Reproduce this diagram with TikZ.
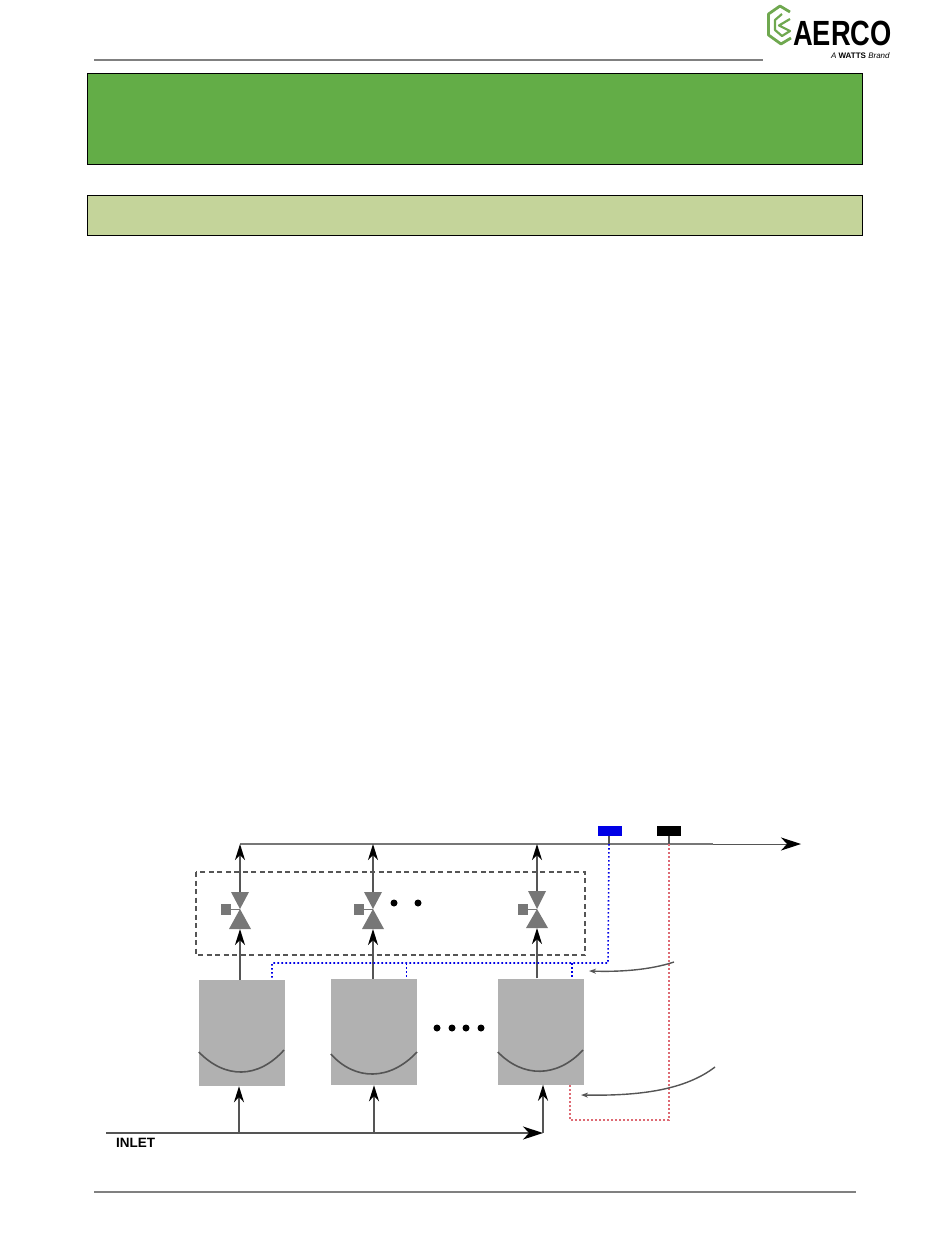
\documentclass[tikz,border=0pt]{standalone}
\usepackage{fontspec}
\usepackage{graphicx}
\setmainfont{Liberation Sans}
\usetikzlibrary{arrows.meta}
\definecolor{bannergreen}{HTML}{63AD47}
\definecolor{bannerlight}{HTML}{C4D49A}
\definecolor{boilergray}{HTML}{B1B1B1}
\definecolor{valvegray}{HTML}{777777}
\definecolor{pipegray}{HTML}{555555}
\definecolor{logogreen}{HTML}{6FA84F}
\definecolor{sensorblue}{HTML}{0000E6}
\definecolor{signalred}{HTML}{DE6A74}
\tikzset{
    banner/.style={draw=black, line width=0.8pt, inner sep=0pt},
    boiler/.style={fill=boilergray, inner sep=0pt, minimum width=86pt, minimum height=106pt},
    sensor/.style={inner sep=0pt, minimum width=24pt, minimum height=10pt},
    actuator/.style={fill=valvegray, inner sep=0pt, minimum width=10pt, minimum height=11pt},
    pipe/.style={draw=pipegray, line width=1.6pt},
    flow/.style={pipe, -{Stealth[length=16pt, width=10pt, inset=5pt, color=black]}},
    bigflow/.style={pipe, -{Stealth[length=20pt, width=13pt, inset=6pt, color=black]}},
    bluewire/.style={draw=sensorblue, line width=1.6pt, dash pattern=on 1.6pt off 2.4pt},
    redwire/.style={draw=signalred, line width=1.6pt, dash pattern=on 1.6pt off 2.4pt},
    pointer/.style={draw=pipegray, line width=1.4pt, -{Stealth[length=7pt, width=5pt]}},
    dot/.style={circle, fill=black, inner sep=0pt, minimum size=7pt}
}
\begin{document}
\begin{tikzpicture}[x=1pt, y=-1pt]
    \useasboundingbox (0,0) rectangle (950,1241);

    % Page furniture
    \draw[draw=gray, line width=1.2pt] (94,60) -- (763,60);
    \draw[draw=gray, line width=1.2pt] (94,1192) -- (856,1192);
    \draw[banner, fill=bannergreen] (87,73) rectangle (862,164);
    \draw[banner, fill=bannerlight] (87,195) rectangle (862,235);

    % Logo
    \draw[draw=logogreen, line width=2.8pt, line join=round]
        (790,12) -- (780,6) -- (768.5,14) -- (768.5,35) -- (781,44) -- (791,38);
    \draw[draw=logogreen, line width=2.2pt, line join=round]
        (782,14) -- (775,20) -- (775,30) -- (782,36) -- (790,31) -- (779,25.5) -- (790,19);
    \node[anchor=west, inner sep=0pt] (logotext) at (793,33.5)
        {\scalebox{.78}[1]{\fontsize{35}{35}\selectfont\bfseries AERCO}};
    \node[anchor=east, inner sep=0pt] (logotag) at (890,56)
        {\fontsize{8}{8}\selectfont \textit{A} \textbf{WATTS} \textit{Brand}};

    % Boilers
    \node[boiler] (boilerA) at (242,1033) {};
    \node[boiler] (boilerB) at (374,1032) {};
    \node[boiler] (boilerC) at (541,1031.5) {};
    \draw[pipe] (boilerA.west |- 0,1052) .. controls (225,1079) and (258,1079) .. (284,1050);
    \draw[pipe] (boilerB.west |- 0,1054) .. controls (355,1081) and (390,1081) .. (417,1052);
    \draw[pipe] (boilerC.west |- 0,1052) .. controls (523,1078) and (557,1078) .. (583,1050);

    % Coordinates of the header and the inlet
    \coordinate (headerA) at (240,844);
    \coordinate (headerB) at (373,844);
    \coordinate (headerC) at (537,844);
    \coordinate (headerEnd) at (713,844);
    \coordinate (outlet) at (801,844);
    \coordinate (inletStart) at (106,1133);
    \coordinate (inletA) at (239,1133);
    \coordinate (inletB) at (374,1133);
    \coordinate (inletC) at (543,1133);

    % Valve outline box
    \draw[draw=pipegray, line width=1.3pt, dash pattern=on 5pt off 3.5pt] (196,872) rectangle (585,955);

    % Valves
    \foreach \name/\vx/\vtop/\vbot in {valveA/240/892/929, valveB/373/892/929, valveC/537/891/928} {
        \coordinate (\name) at (\vx,909);
        \fill[valvegray] (\vx-9,\vtop) -- (\vx+9,\vtop) -- (\name) -- cycle;
        \fill[valvegray] (\vx-11,\vbot) -- (\vx+11,\vbot) -- (\name) -- cycle;
        \node[actuator] (\name act) at (\vx-14,909) {};
        \draw[draw=valvegray, line width=1pt] (\name act) -- (\name);
        \coordinate (\name top) at (\vx,\vtop);
        \coordinate (\name bot) at (\vx,\vbot);
    }

    % Header and outlet
    \draw[draw=valvegray, line width=2.4pt] (headerA) -- (headerEnd);
    \draw[bigflow, line width=1pt] (headerEnd) -- (outlet);
    \draw[flow] (valveAtop) -- (headerA);
    \draw[flow] (valveBtop) -- (headerB);
    \draw[flow] (valveCtop) -- (headerC);

    % Boilers up to valves
    \draw[flow] (valveAbot |- boilerA.north) -- (valveAbot);
    \draw[flow] (valveBbot |- boilerB.north) -- (valveBbot);
    \draw[flow] (valveCbot |- boilerC.north) -- (valveCbot);

    % Inlet
    \draw[bigflow] (inletStart) -- (inletC);
    \draw[flow] (inletA) -- (inletA |- boilerA.south);
    \draw[flow] (inletB) -- (inletB |- boilerB.south);
    \draw[flow] (inletC) -- (inletC |- boilerC.south);
    \node[anchor=west, inner sep=0pt, font=\bfseries\fontsize{13.5}{13.5}\selectfont] (inletlabel) at (116,1143) {INLET};

    % Sensors
    \node[sensor, fill=sensorblue] (sensorBlue) at (610,831) {};
    \node[sensor, fill=black] (sensorBlack) at (669,831) {};
    \coordinate (tapBlue) at (609,844);
    \coordinate (tapBlack) at (669,844);
    \draw[draw=pipegray, line width=2pt] (sensorBlue.south -| tapBlue) -- (tapBlue);
    \draw[draw=pipegray, line width=2pt] (sensorBlack.south) -- (tapBlack);

    % Blue signal wiring
    \coordinate (busCorner) at (608,963);
    \coordinate (busEnd) at (272,963);
    \coordinate (dropB) at (406.5,963);
    \coordinate (dropC) at (572,963);
    \draw[bluewire] (tapBlue) -- (busCorner) -- (busEnd) -- (busEnd |- boilerA.north);
    \draw[bluewire] (dropB) -- (dropB |- boilerB.north);
    \draw[bluewire] (dropC) -- (dropC |- boilerC.north);

    % Red signal wiring
    \coordinate (redCorner) at (669,1120);
    \coordinate (redEnd) at (570,1120);
    \draw[redwire] (tapBlack) -- (redCorner) -- (redEnd) -- (redEnd |- boilerC.south);

    % Pointers
    \coordinate (pointerAstart) at (674,962);
    \coordinate (pointerAend) at (589,971);
    \coordinate (pointerBstart) at (715,1067);
    \coordinate (pointerBend) at (581,1095);
    \draw[pointer] (pointerAstart) .. controls (650,970) and (620,972) .. (pointerAend);
    \draw[pointer] (pointerBstart) .. controls (685,1090) and (640,1096) .. (pointerBend);

    % Dots
    \node[dot] (dotA) at (394,903) {};
    \node[dot] (dotB) at (418,903) {};
    \foreach \dx in {437,452,466,481} {
        \node[dot] (boilerdot\dx) at (\dx,1028) {};
    }
\end{tikzpicture}
\end{document}
